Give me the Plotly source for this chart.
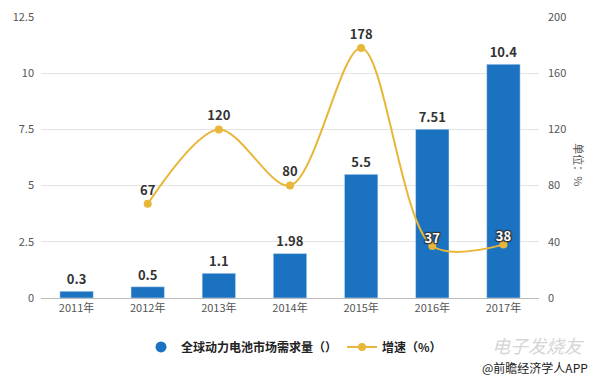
import plotly.graph_objects as go

years = ["2011年", "2012年", "2013年", "2014年", "2015年", "2016年", "2017年"]
demand = [0.3, 0.5, 1.1, 1.98, 5.5, 7.51, 10.4]
growth = [None, 67, 120, 80, 178, 37, 38]
growth_dark_labels = ["", "67", "120", "80", "178", "", ""]
growth_light_labels = ["", "", "", "", "", "37", "38"]
left_ticks = [0, 2.5, 5, 7.5, 10, 12.5]
left_tick_text = ["0", "2.5", "5", "7.5", "10", "12.5"]
right_ticks = [0, 40, 80, 120, 160, 200]

BAR = "#1b72c0"
LINE = "#e8b73a"
FONT = "Noto Sans CJK SC"

fig = go.Figure()
fig.add_trace(go.Bar(
    x=years, y=demand, name="全球动力电池市场需求量（）", showlegend=False,
    marker=dict(color=BAR), width=0.47,
    text=[str(v) for v in demand], textposition="outside",
    textfont=dict(family=FONT, size=13, color="#333333", weight="bold"),
    cliponaxis=False,
))
# legend entry for the bars (circle symbol, as in the reference)
fig.add_trace(go.Scatter(
    x=[None], y=[None], mode="markers", name="全球动力电池市场需求量（）",
    marker=dict(color=BAR, size=11, symbol="circle"),
))
fig.add_trace(go.Scatter(
    x=years, y=growth, name="增速（%）", yaxis="y2",
    mode="lines+markers+text",
    line=dict(color=LINE, width=2, shape="spline", smoothing=0.9),
    marker=dict(color=LINE, size=8),
    text=growth_dark_labels, textposition="top center",
    textfont=dict(family=FONT, size=13, color="#333333", weight="bold"),
    connectgaps=False, cliponaxis=False,
))
fig.add_trace(go.Scatter(
    x=years, y=growth, yaxis="y2", mode="text", showlegend=False,
    text=growth_light_labels, textposition="top center",
    textfont=dict(family=FONT, size=13, color="#ffffff", weight="bold",
                  shadow="1px 1px 1px #333, -1px -1px 1px #333, 1px -1px 1px #333, -1px 1px 1px #333"),
    cliponaxis=False, hoverinfo="skip",
))

fig.update_layout(
    width=600, height=380,
    margin=dict(l=41, r=61, t=17, b=82, autoexpand=False),
    paper_bgcolor="white", plot_bgcolor="white",
    font=dict(family=FONT, size=11, color="#555555"),
    xaxis=dict(
        type="category", showline=True, linecolor="#bbbbbb", linewidth=1,
        ticks="", tickfont=dict(size=11, color="#555555"),
        showgrid=False,
    ),
    yaxis=dict(
        range=[0, 12.5], tickvals=left_ticks, ticktext=left_tick_text,
        showgrid=True, gridcolor="#e3e3e3", gridwidth=1,
        zeroline=False, tickfont=dict(size=11, color="#555555"), ticklabelstandoff=6,
    ),
    yaxis2=dict(
        range=[0, 200], tickvals=right_ticks, overlaying="y", side="right",
        showgrid=False, zeroline=False, tickfont=dict(size=11, color="#555555"),
        ticklabelstandoff=8,
    ),
    legend=dict(
        orientation="h", xref="container", yref="container",
        x=0.49, xanchor="center", y=0.087, yanchor="middle",
        font=dict(family=FONT, size=12, color="#222222", weight="bold"),
        itemwidth=30, tracegroupgap=0,
    ),
    showlegend=True,
)

fig.add_annotation(
    xref="paper", yref="paper", x=1.1, y=0.473,
    text="单位：%", textangle=90, showarrow=False,
    font=dict(family=FONT, size=11, color="#555555"),
)
fig.add_annotation(
    xref="paper", yref="paper", x=1.095, xanchor="right", y=-0.167, yanchor="middle",
    text="<i>电子发烧友</i>", showarrow=False,
    font=dict(family=FONT, size=18, color="#d5d5d5"),
)
fig.add_annotation(
    xref="paper", yref="paper", x=1.102, xanchor="right", y=-0.249, yanchor="middle",
    text="@前瞻经济学人APP", showarrow=False,
    font=dict(family=FONT, size=12, color="#222222"),
)

fig.write_html(
    "out.html",
    config={"displayModeBar": False},
    post_script="document.body.style.margin='0';document.body.style.overflow='hidden';",
)
